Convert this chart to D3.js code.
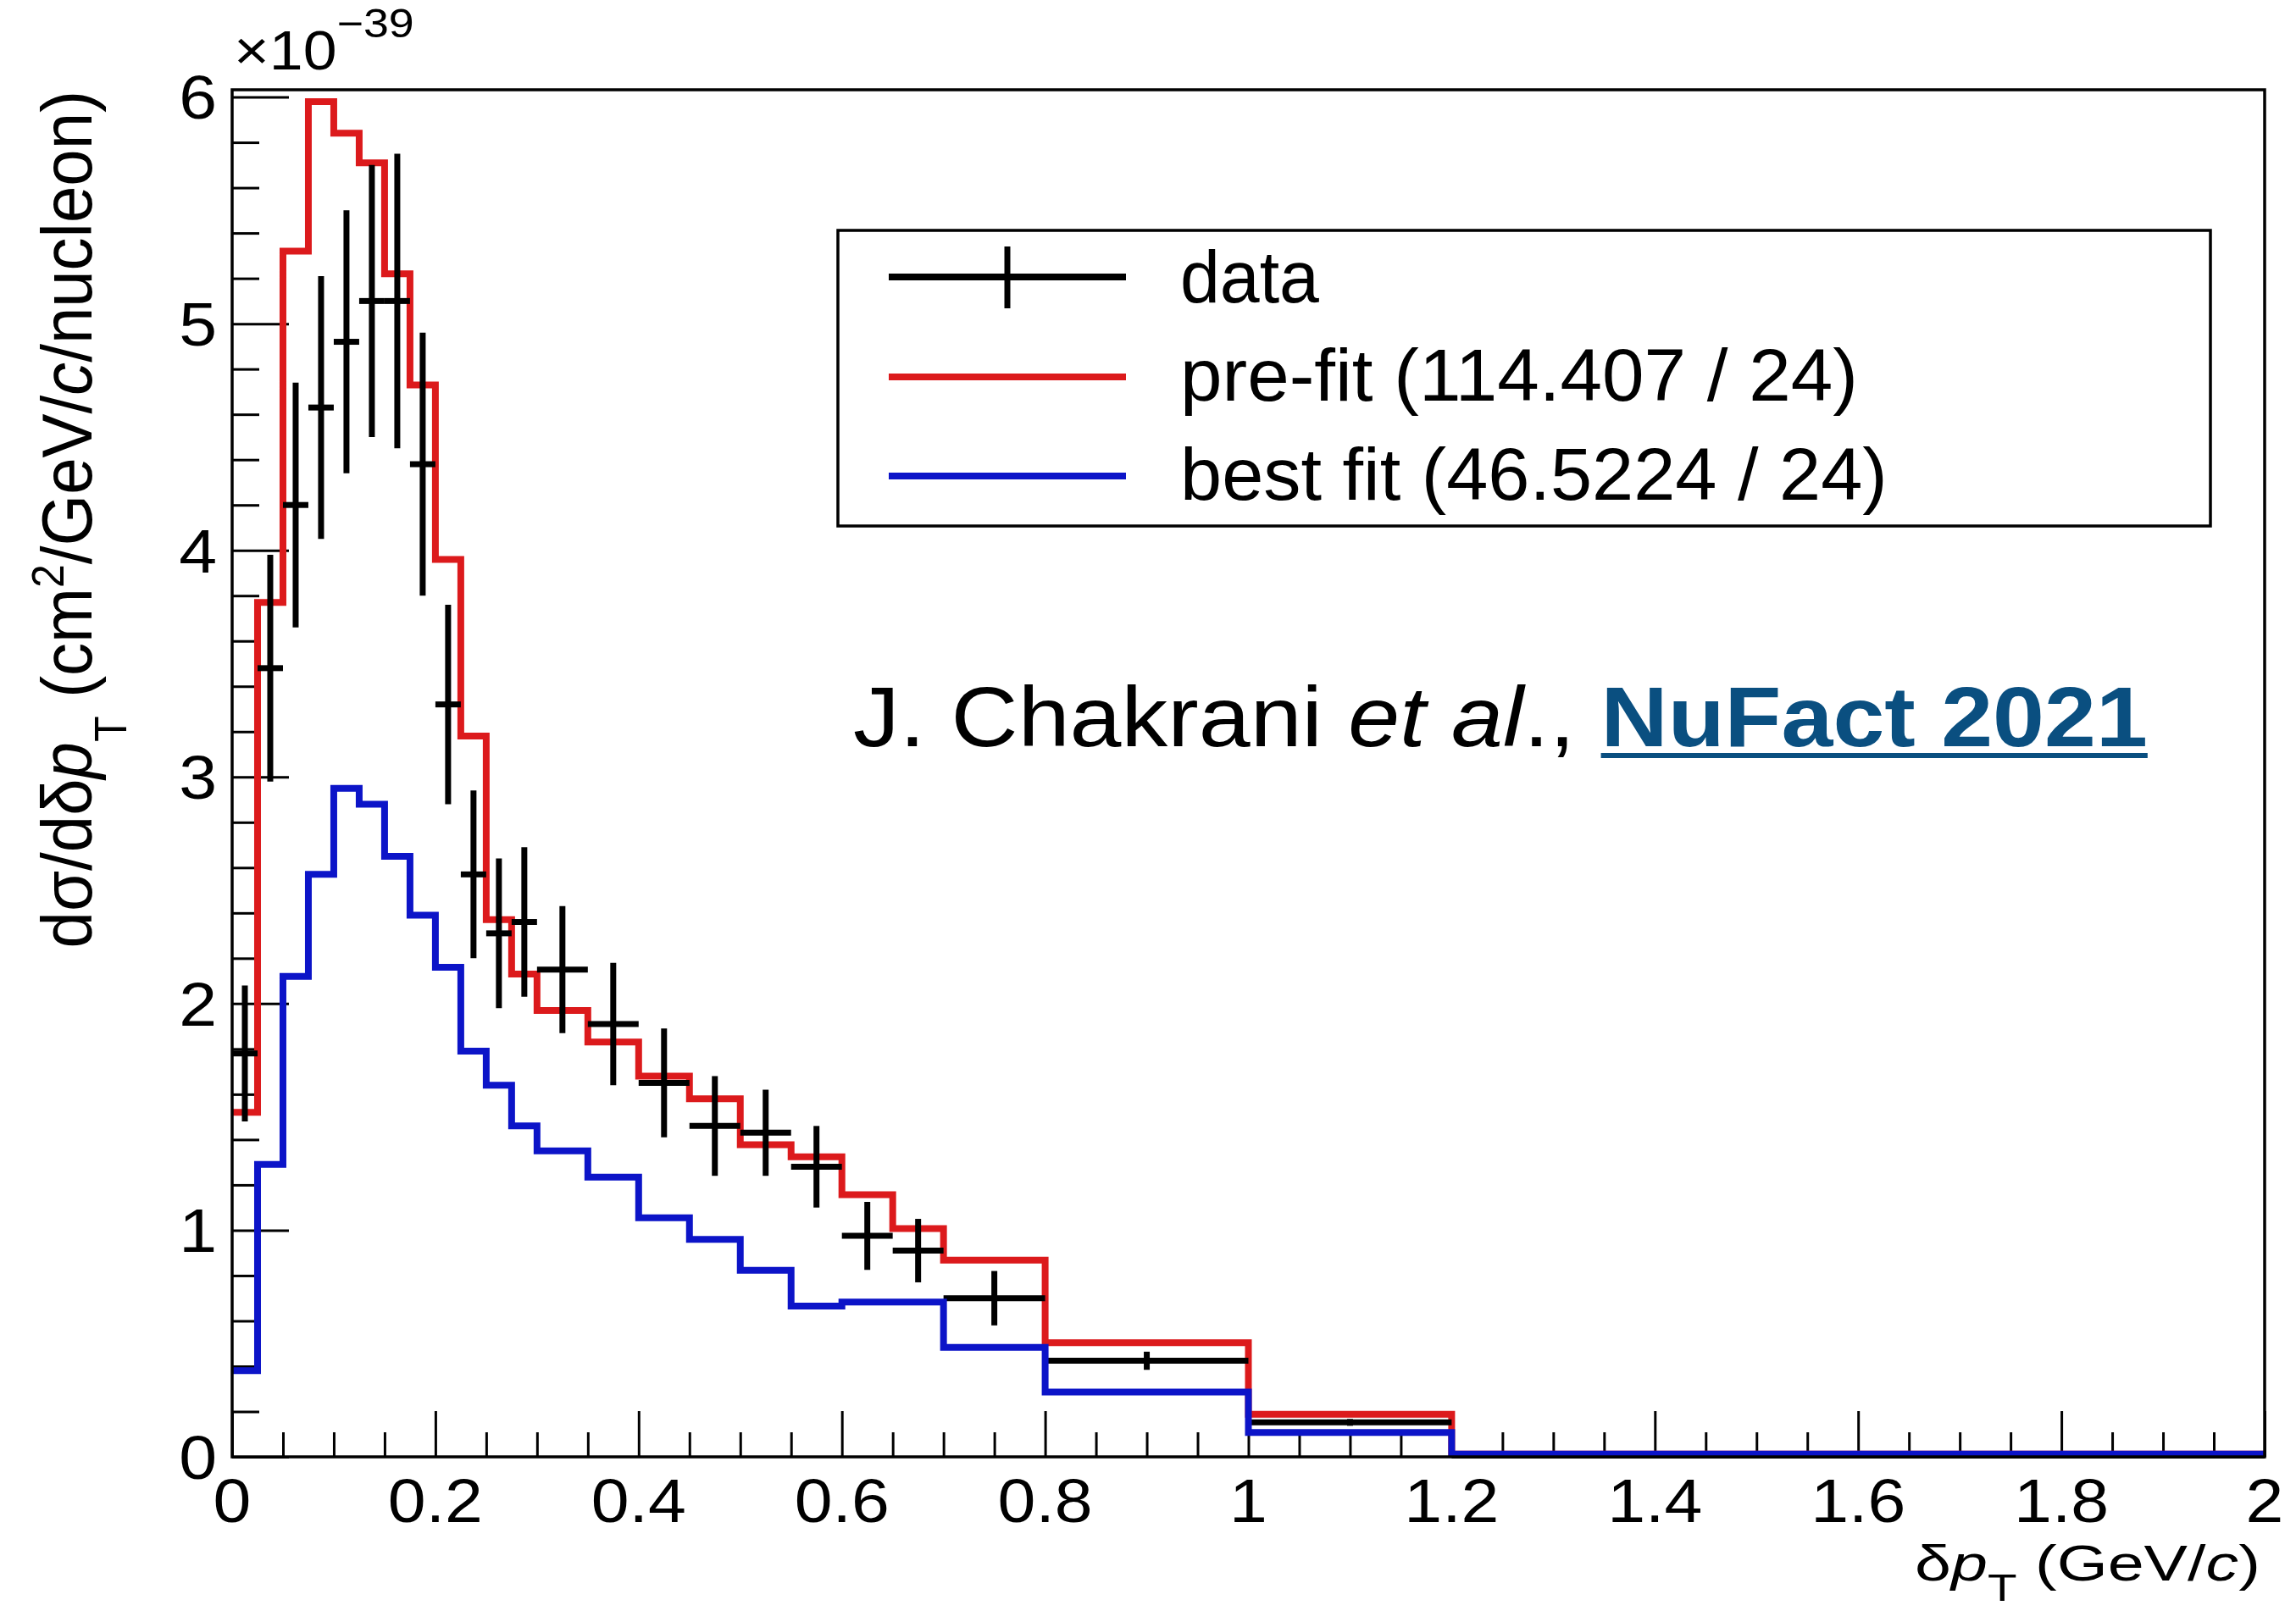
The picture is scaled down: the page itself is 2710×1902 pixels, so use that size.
<!DOCTYPE html>
<html><head><meta charset="utf-8">
<script src="https://cdn.jsdelivr.net/npm/d3@7"></script>
<style>
body{margin:0;background:#fff}
svg{display:block}
text{font-family:"Liberation Sans",Arial,Helvetica,sans-serif;fill:#000}
</style>
</head><body>
<svg id="chart" width="2710" height="1902"></svg>
<script>
// ---------------- data ----------------
const binEdges = [0,0.025,0.05,0.075,0.1,0.125,0.15,0.175,0.2,0.225,0.25,0.275,0.3,0.35,0.4,0.45,0.5,0.55,0.6,0.65,0.7,0.8,1.0,1.2,2.0];
const dataValues = [1.78,3.48,4.20,4.63,4.92,5.10,5.10,4.38,3.32,2.57,2.31,2.36,2.15,1.91,1.65,1.46,1.43,1.28,0.975,0.91,0.70,0.424,0.152,0.006];
const dataErrors = [0.30,0.50,0.54,0.58,0.58,0.60,0.65,0.58,0.44,0.37,0.33,0.33,0.28,0.27,0.24,0.22,0.19,0.18,0.15,0.14,0.12,0.04,0.015,0.003];
const preFitValues = [1.52,3.77,5.32,5.98,5.84,5.71,5.22,4.73,3.96,3.18,2.37,2.13,1.97,1.83,1.68,1.58,1.377,1.324,1.157,1.007,0.868,0.504,0.188,0.012];
const bestFitValues = [0.38,1.29,2.12,2.57,2.95,2.88,2.65,2.39,2.16,1.79,1.64,1.46,1.35,1.234,1.055,0.96,0.823,0.665,0.683,0.683,0.483,0.286,0.107,0.012];
const xMajorTicks = [0,0.2,0.4,0.6,0.8,1,1.2,1.4,1.6,1.8,2];
const xTickLabels = ["0","0.2","0.4","0.6","0.8","1","1.2","1.4","1.6","1.8","2"];
const yMajorTicks = [0,1,2,3,4,5,6];
const yTickLabels = ["0","1","2","3","4","5","6"];
const legendLabels = ["data","pre-fit (114.407 / 24)","best fit (46.5224 / 24)"];

// ---------------- layout ----------------
const svg = d3.select("#chart");
const M = {left:274, right:2673, top:106, bottom:1720};
const x = d3.scaleLinear().domain([0,2]).range([M.left,M.right]);
const y = d3.scaleLinear().domain([0,6.032]).range([M.bottom,M.top]);
const RED = "#dc1a1c", BLUE = "#0c14c8", NAVY = "#0a4f80";
const SX = 1.12; // horizontal stretch of the reference text

const xMinor = d3.range(0,2.0001,0.05).filter(v => Math.abs(v*5 - Math.round(v*5))>1e-6);
const yMinor = d3.range(0,6.0001,0.2).filter(v => Math.abs(v - Math.round(v))>1e-6);

const gx = svg.append("g").attr("transform",`translate(0,${M.bottom})`);
gx.call(d3.axisBottom(x).tickValues(xMajorTicks).tickSize(-54).tickFormat(""));
gx.append("g").call(d3.axisBottom(x).tickValues(xMinor).tickSize(-29).tickFormat(""));
const gy = svg.append("g").attr("transform",`translate(${M.left},0)`);
gy.call(d3.axisLeft(y).tickValues(yMajorTicks).tickSize(-67).tickFormat(""));
gy.append("g").call(d3.axisLeft(y).tickValues(yMinor).tickSize(-32).tickFormat(""));
svg.selectAll(".domain").remove();
svg.selectAll(".tick line").attr("stroke","#000").attr("stroke-width",3);

// tick labels
svg.append("g").selectAll("text").data(xMajorTicks).join("text")
  .attr("transform",d=>`translate(${x(d)},1797) scale(${SX},1)`)
  .attr("text-anchor","middle").attr("font-size",72)
  .text((d,i)=>xTickLabels[i]);
svg.append("g").selectAll("text").data(yMajorTicks).join("text")
  .attr("transform",d=>`translate(256,${y(d)}) scale(${SX},1)`)
  .attr("text-anchor","end").attr("dy","0.36em").attr("font-size",72)
  .text((d,i)=>yTickLabels[i]);

// exponent
const ex = svg.append("text").attr("transform",`translate(276,82) scale(${SX},1)`).attr("font-size",64);
ex.append("tspan").text("\u00d710");
ex.append("tspan").attr("dy",-38).attr("font-size",48).text("\u221239");

// x title
const xt = svg.append("text").attr("text-anchor","start").attr("font-size",60);
xt.append("tspan").text("\u03b4");
xt.append("tspan").attr("font-style","italic").text("p");
xt.append("tspan").attr("dy",24).attr("font-size",44).text("T");
xt.append("tspan").attr("dy",-24).text(" (GeV/");
xt.append("tspan").attr("font-style","italic").text("c");
xt.append("tspan").text(")");
{
  const w = xt.node().getComputedTextLength();
  xt.attr("transform",`translate(2260,1866) scale(${408/w},1)`);
}

// y title
const yt = svg.append("text").attr("transform",`translate(108,107) scale(1.08,1) rotate(-90)`)
  .attr("text-anchor","end").attr("font-size",78);
yt.append("tspan").text("d\u03c3/d\u03b4");
yt.append("tspan").attr("font-style","italic").text("p");
yt.append("tspan").attr("dy",38).attr("font-size",50).text("T");
yt.append("tspan").attr("dy",-38).text("  (cm");
yt.append("tspan").attr("dy",-31).attr("font-size",50).text("2");
yt.append("tspan").attr("dy",31).text("/GeV/");
yt.append("tspan").attr("font-style","italic").text("c");
yt.append("tspan").text("/nucleon)");

// ---------------- histograms ----------------
const stepLine = d3.line().x(d=>x(d[0])).y(d=>y(d[1])).curve(d3.curveStepAfter);
function stepPoints(vals){
  const pts = vals.map((v,i)=>[binEdges[i],v]);
  pts.push([binEdges[binEdges.length-1], vals[vals.length-1]]);
  return pts;
}
const plot = svg.append("g");
plot.append("path").attr("d",stepLine(stepPoints(preFitValues)))
  .attr("fill","none").attr("stroke",RED).attr("stroke-width",8);

const dataG = plot.append("g").attr("stroke","#000").attr("stroke-width",7);
dataValues.forEach((v,i)=>{
  const lo = binEdges[i], hi = binEdges[i+1], c = (lo+hi)/2;
  dataG.append("line").attr("x1",x(lo)).attr("x2",x(hi)).attr("y1",y(v)).attr("y2",y(v));
  dataG.append("line").attr("x1",x(c)).attr("x2",x(c)).attr("y1",y(v-dataErrors[i])).attr("y2",y(v+dataErrors[i]));
});

plot.append("path").attr("d",stepLine(stepPoints(bestFitValues)))
  .attr("fill","none").attr("stroke",BLUE).attr("stroke-width",8);

// frame
svg.append("rect").attr("x",M.left).attr("y",M.top).attr("width",M.right-M.left).attr("height",M.bottom-M.top)
  .attr("fill","none").attr("stroke","#000").attr("stroke-width",3.5);

// ---------------- legend ----------------
const lg = svg.append("g");
lg.append("rect").attr("x",989).attr("y",272).attr("width",1620).attr("height",349)
  .attr("fill","#fff").attr("stroke","#000").attr("stroke-width",3.5);
const legY = [327,445,562], legBase=[357,473,590], legW=[164,800,835];
const legColors = ["#000",RED,BLUE];
legY.forEach((ly,i)=>{
  lg.append("line").attr("x1",1049).attr("x2",1329).attr("y1",ly).attr("y2",ly)
    .attr("stroke",legColors[i]).attr("stroke-width",8);
});
lg.append("line").attr("x1",1189).attr("x2",1189).attr("y1",291).attr("y2",364).attr("stroke","#000").attr("stroke-width",7);
legendLabels.forEach((t,i)=>{
  const el = lg.append("text").attr("font-size",88).text(t);
  const w = el.node().getComputedTextLength();
  el.attr("transform",`translate(1393,${legBase[i]}) scale(${legW[i]/w},1)`);
});

// ---------------- annotation ----------------
const ag = svg.append("g");
const at = ag.append("text").attr("font-size",100);
at.append("tspan").text("J. Chakrani ");
at.append("tspan").attr("font-style","italic").text("et al");
at.append("tspan").text("., ");
at.append("tspan").attr("font-weight","bold").style("fill",NAVY).text("NuFact 2021");
const full = "J. Chakrani et al., NuFact 2021";
const nIdx = full.indexOf("N");
const tn = at.node();
const tw = tn.getComputedTextLength();
ag.attr("transform",`translate(1007,881) scale(${1528/tw},1)`);
const ux0 = tn.getStartPositionOfChar(nIdx).x;
const ux1 = tn.getEndPositionOfChar(full.length-1).x;
ag.append("line").attr("x1",ux0).attr("x2",ux1).attr("y1",11).attr("y2",11)
  .attr("stroke",NAVY).attr("stroke-width",6);
</script>
</body></html>
